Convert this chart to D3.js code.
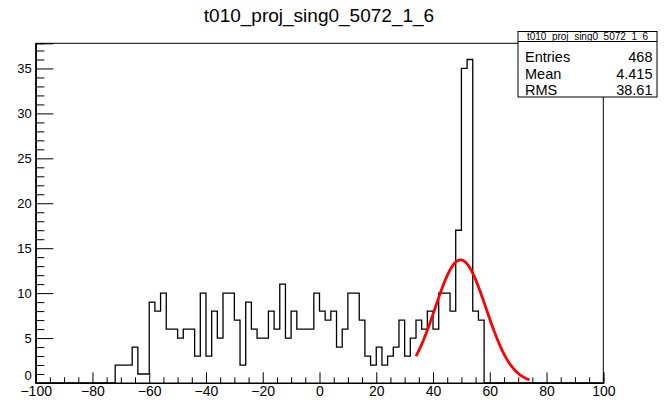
<!DOCTYPE html>
<html>
<head>
<meta charset="utf-8">
<script src="https://cdn.jsdelivr.net/npm/d3@7"></script>
<style>
  html, body { margin: 0; padding: 0; background: #fff; }
  svg { display: block; }
  text { font-family: "Liberation Sans", Arial, Helvetica, sans-serif; }
</style>
</head>
<body>
<svg id="chart" width="667" height="404"></svg>
<script>
// ---- data ----
const histTitle = "t010_proj_sing0_5072_1_6";
const binWidth = 2;
const xRange = [-100, 100];
const firstFilledBin = -72; // low edge of first non-empty bin
const binCounts = [
  2, 2, 2, 4, 1, 1,
  9, 8, 10, 6, 6, 5, 6, 6, 3, 10, 3, 8, 5, 10, 10, 7, 2, 9, 6, 5, 5, 8, 6,
  11, 5, 8, 6, 6, 6, 10, 8, 7, 8, 4, 6, 10, 10, 7, 3, 2, 4, 2, 3, 4,
  7, 3, 5, 7, 6, 8, 6, 10, 10, 8, 17, 35, 36, 8, 7
];
const statLabels = ["Entries", "Mean", "RMS"];
const statValues = ["468", "4.415", "38.61"];
const xMajorTicks = [-100, -80, -60, -40, -20, 0, 20, 40, 60, 80, 100];
const yMajorTicks = [0, 5, 10, 15, 20, 25, 30, 35];
// gaussian fit parameters (constant, mean, sigma) and fit range
const fitConstant = 13.7;
const fitMean = 49.7;
const fitSigma = 9.0;
const fitRange = [34, 74];

// ---- layout ----
const svg = d3.select("#chart");
const frame = { left: 35.7, right: 603.3, top: 43.3, bottom: 383 };
const yMax = d3.max(binCounts) * 1.05;

const x = d3.scaleLinear().domain(xRange).range([frame.left, frame.right]);
const y = d3.scaleLinear().domain([0, yMax]).range([frame.bottom, frame.top]);

// title
svg.append("text")
  .attr("x", 319).attr("y", 21.5)
  .attr("text-anchor", "middle")
  .attr("font-size", 19)
  .attr("fill", "#000")
  .text(histTitle);

// frame
svg.append("rect")
  .attr("x", frame.left).attr("y", frame.top)
  .attr("width", frame.right - frame.left)
  .attr("height", frame.bottom - frame.top)
  .attr("fill", "none").attr("stroke", "#000").attr("stroke-width", 1);

// histogram step outline over all bins
const nBins = (xRange[1] - xRange[0]) / binWidth;
const pts = [[xRange[0], 0]];
for (let i = 0; i < nBins; i++) {
  const lo = xRange[0] + i * binWidth;
  const idx = Math.round((lo - firstFilledBin) / binWidth);
  const c = (idx >= 0 && idx < binCounts.length) ? binCounts[idx] : 0;
  pts.push([lo, c], [lo + binWidth, c]);
}
pts.push([xRange[1], 0]);
svg.append("path")
  .attr("d", d3.line().x(d => x(d[0])).y(d => y(d[1]))(pts))
  .attr("fill", "none").attr("stroke", "#000").attr("stroke-width", 1.3);

// fit curve
const gauss = v => fitConstant * Math.exp(-0.5 * Math.pow((v - fitMean) / fitSigma, 2));
const fitPts = d3.range(fitRange[0], fitRange[1] + 0.001, 0.4).map(v => [v, gauss(v)]);
svg.append("path")
  .attr("d", d3.line().x(d => x(d[0])).y(d => y(d[1]))(fitPts))
  .attr("fill", "none").attr("stroke", "#ff0000").attr("stroke-width", 2.8)
  .attr("stroke-linejoin", "round");

// x axis
const fmt = d3.format("d");
const xAxisMajor = d3.axisBottom(x).tickValues(xMajorTicks).tickSize(-10.7).tickPadding(3).tickFormat(fmt);
const xMinorVals = d3.range(xRange[0], xRange[1] + 0.1, 5).filter(v => v % 20 !== 0);
const xAxisMinor = d3.axisBottom(x).tickValues(xMinorVals).tickSize(-5.7).tickFormat("");
const gx = svg.append("g").attr("transform", `translate(0,${frame.bottom})`).call(xAxisMajor);
const gxm = svg.append("g").attr("transform", `translate(0,${frame.bottom})`).call(xAxisMinor);
gx.selectAll("text").attr("font-size", 14).attr("font-family", "Liberation Sans, Arial, sans-serif").attr("fill", "#000");
[gx, gxm].forEach(g => {
  g.select(".domain").attr("stroke", "#000");
  g.selectAll("line").attr("stroke", "#000");
});

// y axis
const yAxisMajor = d3.axisLeft(y).tickValues(yMajorTicks).tickSize(-17.7).tickPadding(4).tickFormat(fmt);
const yMinorVals = d3.range(0, Math.floor(yMax) + 1, 1).filter(v => v % 5 !== 0);
const yAxisMinor = d3.axisLeft(y).tickValues(yMinorVals).tickSize(-8.7).tickFormat("");
const gy = svg.append("g").attr("transform", `translate(${frame.left},0)`).call(yAxisMajor);
const gym = svg.append("g").attr("transform", `translate(${frame.left},0)`).call(yAxisMinor);
gy.selectAll("text").attr("font-size", 13).attr("font-family", "Liberation Sans, Arial, sans-serif").attr("fill", "#000");
// lift the "0" label a little so it sits just above the -100 x label
gy.selectAll(".tick").filter(d => d === 0).select("text").attr("dy", "-0.3em");
[gy, gym].forEach(g => {
  g.select(".domain").attr("stroke", "#000");
  g.selectAll("line").attr("stroke", "#000");
});

// stats box
const box = { x: 518, y: 31.5, w: 139, h: 65.5, head: 10 };
const sb = svg.append("g");
sb.append("rect")
  .attr("x", box.x).attr("y", box.y).attr("width", box.w).attr("height", box.h)
  .attr("fill", "#fff").attr("stroke", "#000").attr("stroke-width", 1);
sb.append("line")
  .attr("x1", box.x).attr("x2", box.x + box.w)
  .attr("y1", box.y + box.head).attr("y2", box.y + box.head)
  .attr("stroke", "#000").attr("stroke-width", 1);
sb.append("text")
  .attr("x", box.x + box.w / 2).attr("y", box.y + 8.2)
  .attr("text-anchor", "middle").attr("font-size", 10)
  .text(histTitle);
const rowBase = [61.5, 78.5, 95];
statLabels.forEach((lab, i) => {
  sb.append("text").attr("x", box.x + 7).attr("y", rowBase[i])
    .attr("font-size", 14.5).text(lab);
  sb.append("text").attr("x", box.x + box.w - 4.5).attr("y", rowBase[i])
    .attr("text-anchor", "end").attr("font-size", 14.5).text(statValues[i]);
});
</script>
</body>
</html>
